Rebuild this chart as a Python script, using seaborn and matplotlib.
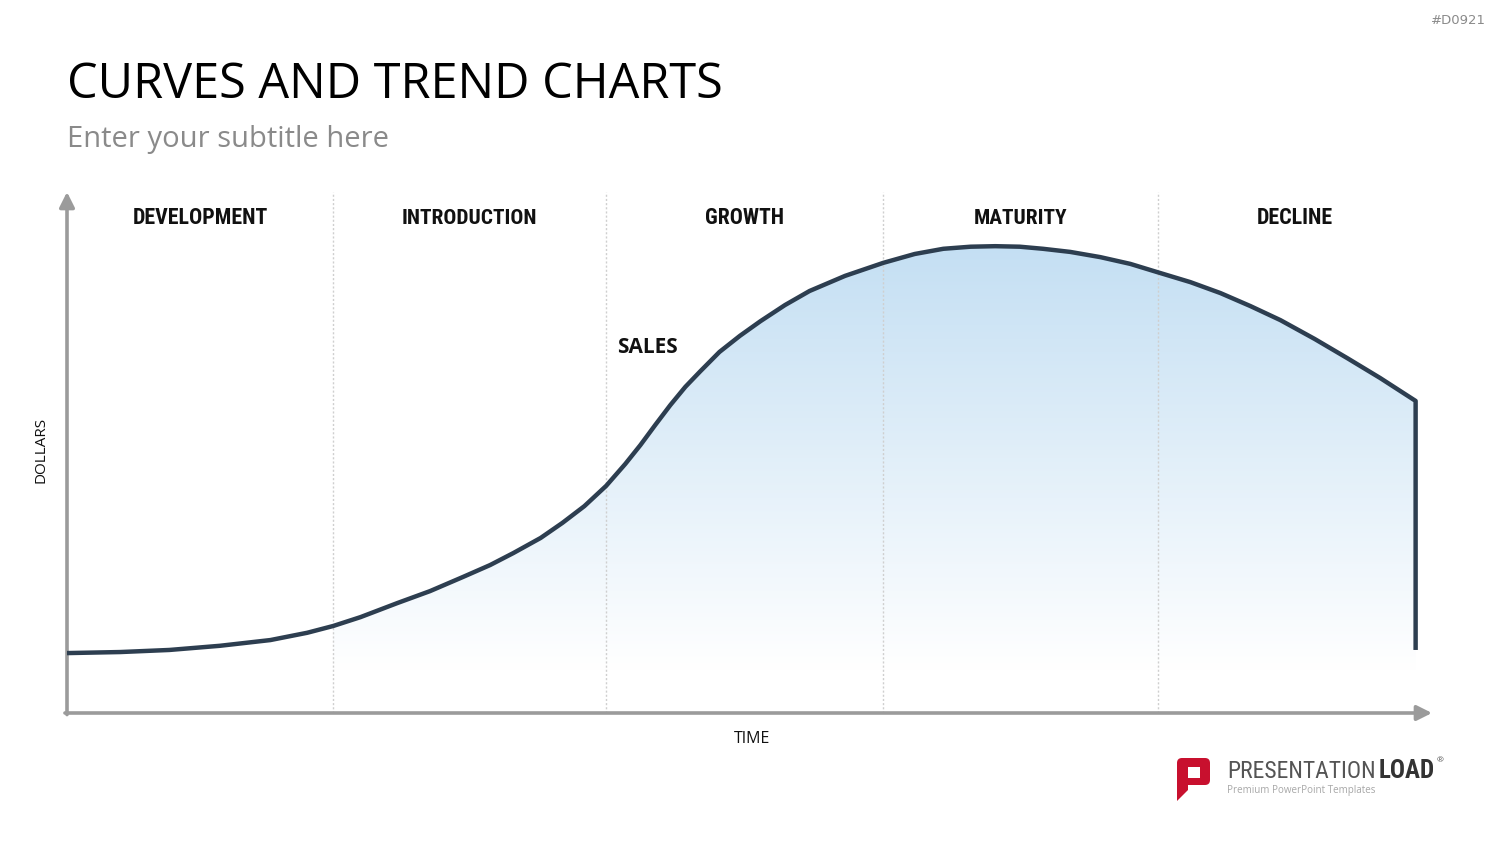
import numpy as np
import pandas as pd
import seaborn as sns
import matplotlib.pyplot as plt
from matplotlib.patches import Rectangle, FancyBboxPatch, Polygon
from matplotlib import font_manager

# life cycle curve (time 0-100, dollars 0-100)
time = [0.0, 3.9, 7.5, 11.2, 14.9, 17.6, 19.5, 21.5, 24.2, 26.6, 29.0, 31.0, 32.7,
        34.7, 36.3, 37.9, 39.5, 40.9, 42.0, 43.1, 44.2, 45.3, 46.4, 47.8, 49.3, 50.8,
        52.6, 54.4, 57.0, 59.8, 62.1, 64.2, 66.2, 68.0, 69.8, 71.5, 73.5, 75.7, 77.9,
        79.9, 82.3, 84.5, 86.7, 88.9, 91.4, 93.8, 96.2, 98.8]
sales = [11.5, 11.7, 12.1, 12.9, 14.0, 15.4, 16.7, 18.4, 21.1, 23.4, 26.1, 28.4, 30.7,
         33.6, 36.5, 39.7, 43.6, 47.8, 51.4, 55.3, 59.1, 62.6, 65.6, 69.3, 72.4, 75.2,
         78.3, 81.0, 83.9, 86.4, 88.1, 89.1, 89.5, 89.6, 89.5, 89.1, 88.5, 87.5, 86.2,
         84.6, 82.7, 80.6, 78.1, 75.4, 71.8, 68.1, 64.3, 59.9]
drop_to = 12.1

stages = ["DEVELOPMENT", "INTRODUCTION", "GROWTH", "MATURITY", "DECLINE"]
stage_edges = [0, 19.5, 39.5, 59.8, 79.9, 100]
fill_from = 19.5

sns.set_theme(style="white")
names = {f.name for f in font_manager.fontManager.ttflist}
narrow = "DejaVu Sans"
for cand in ["Roboto Condensed", "Liberation Sans Narrow", "Noto Sans Condensed",
             "Noto Sans SemiCondensed", "DejaVu Sans Condensed", "Open Sans Condensed",
             "Arial Narrow"]:
    if cand in names:
        narrow = cand
        break
plt.rcParams['font.family'] = ['Open Sans', 'DejaVu Sans']

fig = plt.figure(figsize=(15, 8.44), dpi=100, facecolor="white")
renderer = fig.canvas.get_renderer()


def fit(txt, width_px):
    # shrink or grow a text so that it spans about width_px pixels
    w = txt.get_window_extent(renderer).width
    txt.set_fontsize(txt.get_fontsize() * width_px / w)


ax = fig.add_axes([67 / 1500, 131 / 844, 1365 / 1500, 521 / 844])
ax.set_xlim(0, 100)
ax.set_ylim(0, 100)
ax.axis("off")

df = pd.DataFrame({"time": time + [time[-1]], "sales": sales + [drop_to]})
sns.lineplot(data=df, x="time", y="sales", sort=False, estimator=None,
             color="#2d3e50", lw=3.2, ax=ax, zorder=5, solid_capstyle="butt",
             solid_joinstyle="round")

# gradient fill under the curve
t = np.array(time)
s = np.array(sales)
m = t >= fill_from
top = np.array([196, 223, 243]) / 255
grad = np.linspace(0, 1, 256)[:, None, None]
img = grad * top + (1 - grad) * np.ones(3)
im = ax.imshow(img, extent=[fill_from, t[-1], 8, s.max()], origin="lower",
               aspect="auto", zorder=2)
clip = Polygon(np.vstack([[fill_from, 0], np.column_stack([t[m], s[m]]), [t[-1], 0]]),
               closed=True, transform=ax.transData)
im.set_clip_path(clip)
ax.set_xlim(0, 100)
ax.set_ylim(0, 100)

# stage dividers and labels
for x in stage_edges[1:-1]:
    ax.plot([x, x], [0, 100], color="#cfcfcf", lw=1, ls=(0, (1.5, 1.5)), zorder=3)
label_w = [108, 108, 63, 75, 61]
for i, name in enumerate(stages):
    cx = (stage_edges[i] + stage_edges[i + 1]) / 2
    tx = ax.text(cx, 95.0, name, ha="center", va="center", fontsize=16,
                 fontweight="bold", family=[narrow, "DejaVu Sans"], color="#111111")
    fit(tx, label_w[i] * (1.25 if narrow != "DejaVu Sans" else 1.12))

ax.text(42.5, 70.2, "SALES", ha="center", va="center", fontsize=15,
        fontweight="bold", color="#111111")

# axes arrows
arrow = dict(arrowstyle="-|>,head_length=0.5,head_width=0.25", color="#9b9b9b",
             lw=2.6, mutation_scale=18, shrinkA=0, shrinkB=0)
ax.annotate("", xy=(0, 100), xytext=(0, -0.3), arrowprops=arrow, annotation_clip=False)
ax.annotate("", xy=(100, 0), xytext=(-0.15, 0), arrowprops=arrow, annotation_clip=False)

ax.text(50.2, -5, "TIME", ha="center", va="center", fontsize=11.5, color="#111111")
ax.text(-1.9, 50.5, "DOLLARS", ha="center", va="center", rotation=90, fontsize=11,
        color="#111111")

# header
fig.text(67 / 1500, 1 - 85 / 844, "CURVES AND TREND CHARTS", ha="left", va="center",
         fontsize=35, color="#000000")
fig.text(67 / 1500, 1 - 139 / 844, "Enter your subtitle here", ha="left", va="center",
         fontsize=21, color="#8a8a8a")
fig.text(1486 / 1500, 1 - 20 / 844, "#D0921", ha="right", va="center", fontsize=9.5,
         color="#8a8a8a", family=["DejaVu Sans"])

# logo
lg = fig.add_axes([0, 0, 1, 1], facecolor="none")
lg.set_xlim(0, 1500)
lg.set_ylim(844, 0)
lg.axis("off")
lg.add_patch(FancyBboxPatch((1177, 758), 33, 27, boxstyle="round,pad=0,rounding_size=5",
                            color="#c8102e", lw=0))
lg.add_patch(Polygon([[1177, 780], [1188, 780], [1188, 790], [1177, 801]], closed=True,
                     color="#c8102e", lw=0))
lg.add_patch(Rectangle((1188, 767), 12, 11, color="white", lw=0))
p1 = lg.text(1227, 771, "PRESENTATION", ha="left", va="center", fontsize=21,
             family=[narrow, "DejaVu Sans"], color="#555555")
fit(p1, 149)
p2 = lg.text(1435, 771, "LOAD", ha="right", va="center", fontsize=21, fontweight="bold",
             family=[narrow, "DejaVu Sans"], color="#333333")
fit(p2, 56)
lg.text(1437, 761, "®", ha="left", va="center", fontsize=6, color="#555555")
p3 = lg.text(1227, 791, "Premium PowerPoint Templates", ha="left", va="center",
             fontsize=7.5, color="#a8a8a8")
fit(p3, 148)

fig.savefig("out.png", dpi=100, facecolor="white")
